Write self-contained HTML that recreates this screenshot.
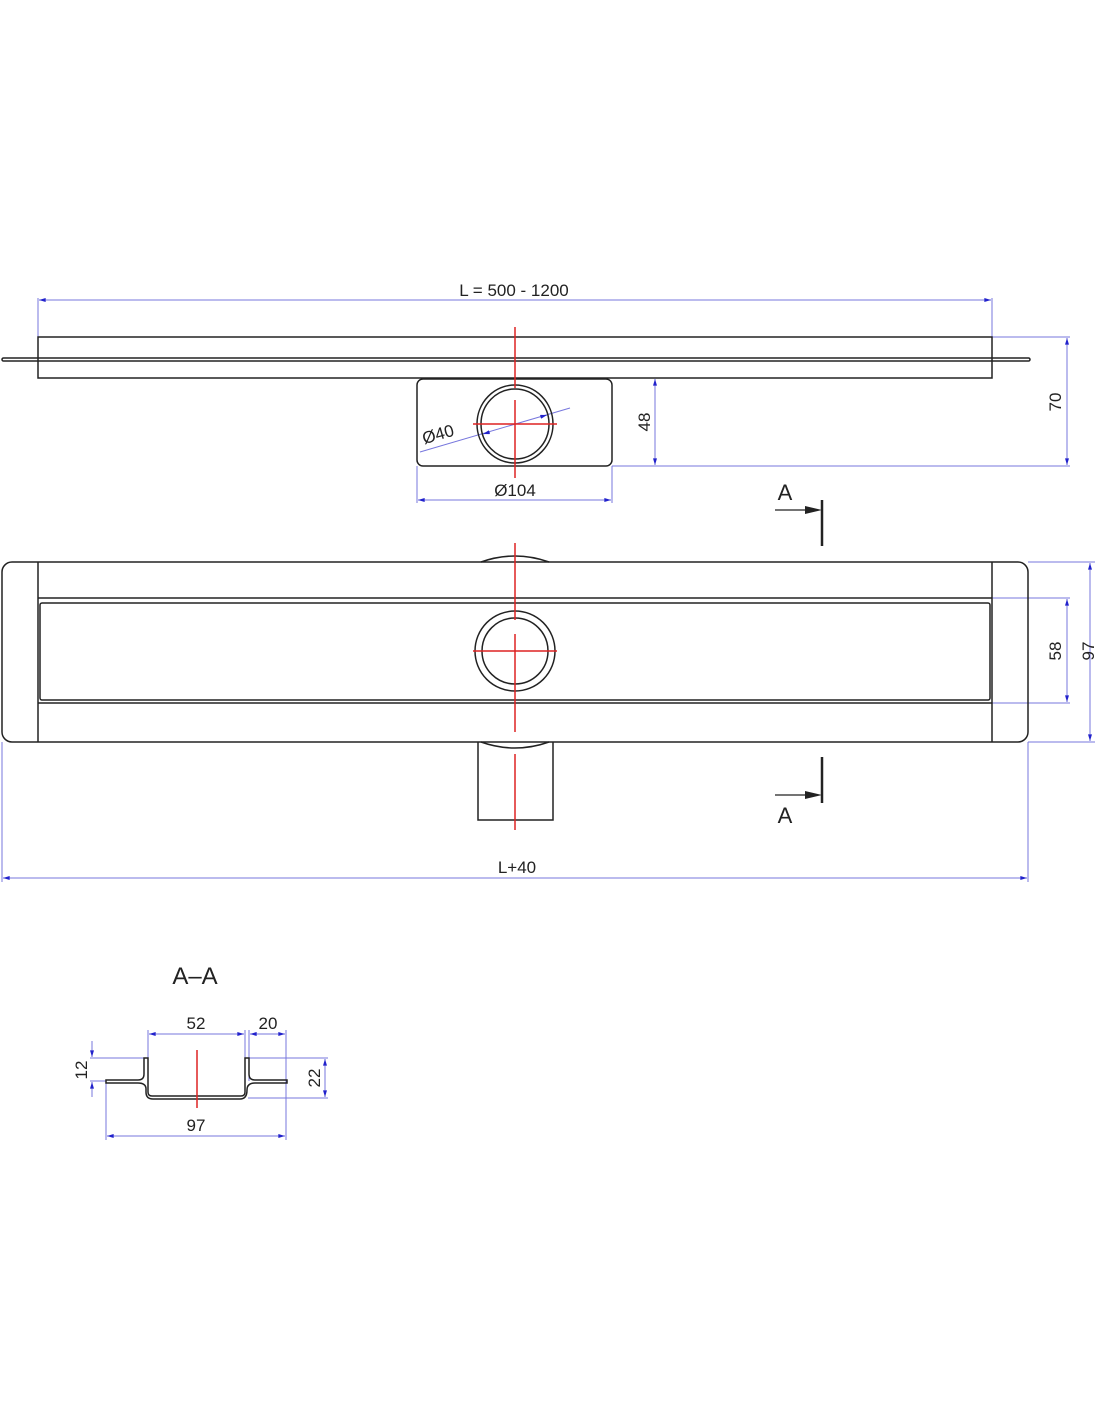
<!DOCTYPE html>
<html><head><style>body{margin:0;background:#fff}svg{display:block}</style></head><body>
<svg width="1100" height="1422" viewBox="0 0 1100 1422" xmlns="http://www.w3.org/2000/svg" font-family="Liberation Sans, sans-serif">
<defs>
<marker id="a" viewBox="0 0 10 6" refX="10" refY="3" markerWidth="8" markerHeight="4" orient="auto-start-reverse"><path d="M0,0L10,3L0,6z" fill="#2222cc"/></marker>
</defs>
<g stroke="#7777dd" stroke-width="1" fill="none">
<line x1="38" y1="337" x2="38" y2="298"/><line x1="992" y1="337" x2="992" y2="298"/>
<line x1="39" y1="300" x2="991" y2="300" marker-start="url(#a)" marker-end="url(#a)"/>
<line x1="992" y1="337" x2="1070" y2="337"/><line x1="612" y1="466" x2="1070" y2="466"/>
<line x1="1067" y1="338" x2="1067" y2="465" marker-start="url(#a)" marker-end="url(#a)"/>
<line x1="655" y1="379" x2="655" y2="465" marker-start="url(#a)" marker-end="url(#a)"/>
<line x1="417" y1="466" x2="417" y2="503"/><line x1="612" y1="466" x2="612" y2="503"/>
<line x1="418" y1="500" x2="611" y2="500" marker-start="url(#a)" marker-end="url(#a)"/>
<line x1="420" y1="452" x2="570" y2="408"/>
<line x1="490" y1="432" x2="483" y2="434" marker-end="url(#a)"/>
<line x1="540" y1="417" x2="547" y2="415" marker-end="url(#a)"/>
<line x1="1028" y1="562" x2="1095" y2="562"/><line x1="1028" y1="742" x2="1095" y2="742"/>
<line x1="1090" y1="563" x2="1090" y2="741" marker-start="url(#a)" marker-end="url(#a)"/>
<line x1="992" y1="598" x2="1070" y2="598"/><line x1="992" y1="703" x2="1070" y2="703"/>
<line x1="1067" y1="599" x2="1067" y2="702" marker-start="url(#a)" marker-end="url(#a)"/>
<line x1="2" y1="742" x2="2" y2="882"/><line x1="1028" y1="742" x2="1028" y2="882"/>
<line x1="3" y1="878" x2="1027" y2="878" marker-start="url(#a)" marker-end="url(#a)"/>
<line x1="148" y1="1058" x2="148" y2="1030"/><line x1="245" y1="1058" x2="245" y2="1030"/>
<line x1="249" y1="1081" x2="249" y2="1030"/><line x1="286" y1="1081" x2="286" y2="1030"/>
<line x1="149" y1="1034" x2="244" y2="1034" marker-start="url(#a)" marker-end="url(#a)"/>
<line x1="250" y1="1034" x2="285" y2="1034" marker-start="url(#a)" marker-end="url(#a)"/>
<line x1="90" y1="1058" x2="148" y2="1058"/><line x1="90" y1="1081" x2="106" y2="1081"/>
<line x1="92" y1="1041" x2="92" y2="1057" marker-end="url(#a)"/><line x1="92" y1="1097" x2="92" y2="1082" marker-end="url(#a)"/>
<line x1="245" y1="1058" x2="328" y2="1058"/><line x1="248" y1="1098" x2="328" y2="1098"/>
<line x1="325" y1="1059" x2="325" y2="1097" marker-start="url(#a)" marker-end="url(#a)"/>
<line x1="106" y1="1081" x2="106" y2="1140"/><line x1="286" y1="1081" x2="286" y2="1140"/>
<line x1="107" y1="1136" x2="285" y2="1136" marker-start="url(#a)" marker-end="url(#a)"/>
</g>
<g stroke="#222" stroke-width="1.5" fill="none">
<rect x="38" y="337" width="954" height="41"/>
<rect x="2" y="358" width="1028" height="3" rx="1.5"/>
<rect x="417" y="379" width="195" height="87" rx="6"/>
<ellipse cx="515" cy="424" rx="38" ry="39"/><ellipse cx="515" cy="424" rx="34" ry="35"/>
<rect x="2" y="562" width="1026" height="180" rx="10"/>
<line x1="38" y1="562" x2="38" y2="742"/><line x1="992" y1="562" x2="992" y2="742"/>
<line x1="38" y1="598" x2="992" y2="598"/><line x1="38" y1="703" x2="992" y2="703"/>
<rect x="40" y="603" width="950" height="97" rx="2"/>
<circle cx="515" cy="651" r="40"/><circle cx="515" cy="651" r="33"/>
<path d="M481,562 Q515,550 549,562"/>
<path d="M478,742 L478,820 L553,820 L553,742"/>
<path d="M481,742 Q515,754 549,742"/>
<path d="M106,1080 L138,1080 Q144,1080 144,1074 L144,1058 L148,1058 L148,1092 Q148,1096 152,1096 L241,1096 Q245,1096 245,1092 L245,1058 L249,1058 L249,1074 Q249,1080 255,1080 L287,1080 L287,1083 L255,1083 Q247,1083 247,1090 Q247,1099 240,1099 L153,1099 Q146,1099 146,1092 L146,1089 Q146,1083 138,1083 L106,1083 Z"/>
</g>
<g stroke="#222" stroke-width="2.5">
<line x1="822" y1="500" x2="822" y2="546"/><line x1="822" y1="757" x2="822" y2="803"/>
</g>
<g stroke="#222" stroke-width="1.2"><line x1="775" y1="510" x2="810" y2="510"/><line x1="775" y1="795" x2="810" y2="795"/></g>
<path d="M805,506 L822,510 L805,514z M805,791 L822,795 L805,799z" fill="#222"/>
<g stroke="#dd2222" stroke-width="1.5">
<line x1="515" y1="327" x2="515" y2="388"/><line x1="515" y1="400" x2="515" y2="478"/>
<line x1="473" y1="424" x2="557" y2="424"/>
<line x1="515" y1="543" x2="515" y2="620"/><line x1="515" y1="634" x2="515" y2="732"/><line x1="515" y1="754" x2="515" y2="830"/>
<line x1="473" y1="651" x2="557" y2="651"/>
<line x1="197" y1="1050" x2="197" y2="1108"/>
</g>
<g fill="#222" font-size="17" text-anchor="middle">
<text x="514" y="296">L = 500 - 1200</text>
<text x="515" y="496">Ø104</text>
<text x="438" y="440" transform="rotate(-16 438 434)">Ø40</text>
<text x="650" y="422" transform="rotate(-90 650 422)">48</text>
<text x="1061" y="402" transform="rotate(-90 1061 402)">70</text>
<text x="1061" y="651" transform="rotate(-90 1061 651)">58</text>
<text x="1094" y="651" transform="rotate(-90 1094 651)">97</text>
<text x="517" y="873">L+40</text>
<text x="785" y="500" font-size="22">A</text>
<text x="785" y="823" font-size="22">A</text>
<text x="195" y="984" font-size="24">A–A</text>
<text x="196" y="1029">52</text>
<text x="268" y="1029">20</text>
<text x="87" y="1070" transform="rotate(-90 87 1070)">12</text>
<text x="320" y="1078" transform="rotate(-90 320 1078)">22</text>
<text x="196" y="1131">97</text>
</g>
</svg>
</body></html>
